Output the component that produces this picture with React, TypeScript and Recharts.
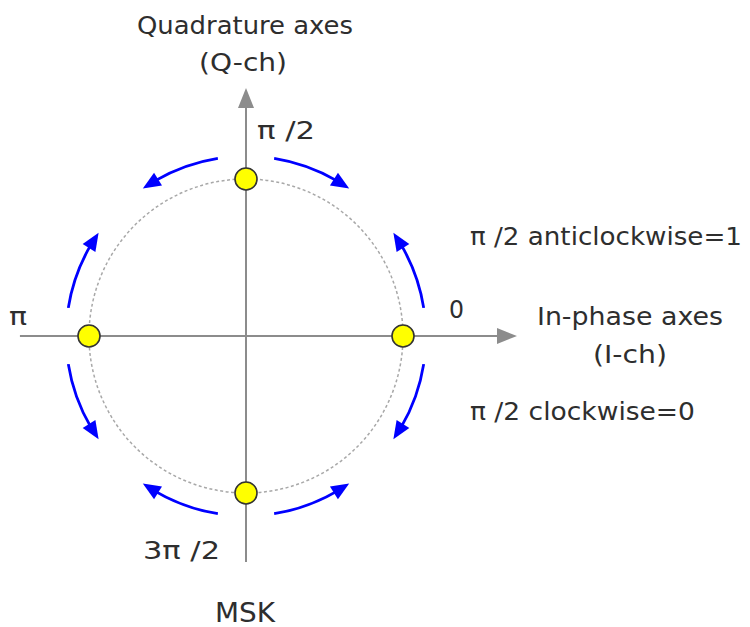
import React from 'react';
import { ScatterChart, Scatter, XAxis, YAxis, ReferenceLine, ReferenceDot } from 'recharts';

// ---- data ----
const pointI = [1, 0, -1, 0];
const pointQ = [0, 1, 0, -1];
const phaseLabels = ['0', 'π /2', 'π', '3π /2'];
const axisTitleI = ['In-phase axes', '(I-ch)'];
const axisTitleQ = ['Quadrature axes', '(Q-ch)'];
const chartTitle = 'MSK';
const ruleLabels = ['π /2 anticlockwise=1', 'π /2 clockwise=0'];
// phase transition arrows (degrees, counter-clockwise from I axis)
const arrowFrom = [9, -9, 81, 99, 171, 189, 261, 279];
const arrowTo = [35, -35, 55, 125, 145, 215, 235, 305];
const arrowRadius = 1.146;
const axisIRange = [-1.44, 1.726];
const axisQRange = [-1.44, 1.58];

const constellation = pointI.map((x, i) => ({ x, y: pointQ[i], label: phaseLabels[i] }));

// ---- layout ----
const W = 750, H = 627;
const CX = 246, CY = 336, U = 157;
const XMIN = -CX / U, XMAX = (W - CX) / U;
const YMAX = CY / U, YMIN = -(H - CY) / U;

const TEXT = '#2e2e2e';
const AXIS = '#8c8c8c';
const BLUE = '#0000ff';
const FONT = '"DejaVu Sans", sans-serif';
const FS = 24;

function Txt({ x, y, w, anchor = 'start', size = FS, children }: any) {
  return (
    <text x={x} y={y} fontFamily={FONT} fontSize={size} fill={TEXT} textAnchor={anchor}
      textLength={w} lengthAdjust="spacingAndGlyphs">{children}</text>
  );
}

// label layout relative to each constellation point: [dx, dy, width]
const phaseLabelLayout: Record<string, [number, number, number]> = {
  '0': [46, -18, 15],
  'π /2': [11, -40, 58],
  'π': [-80, -11, 18],
  '3π /2': [-103, 66, 77],
};

function arrowHead(x1: number, y1: number, x2: number, y2: number, len: number, wid: number, fill: string) {
  const dx = x2 - x1, dy = y2 - y1;
  const d = Math.hypot(dx, dy) || 1;
  const ux = dx / d, uy = dy / d;
  const bx = x2 - ux * len, by = y2 - uy * len;
  const nx = -uy, ny = ux;
  const pts = `${x2},${y2} ${bx + nx * wid / 2},${by + ny * wid / 2} ${bx - nx * wid / 2},${by - ny * wid / 2}`;
  return <polygon points={pts} fill={fill} />;
}

function OriginShape(props: any) {
  const { cx, cy } = props;
  const R = arrowRadius * U;
  const p = (deg: number, r: number) => {
    const a = (deg * Math.PI) / 180;
    return [cx + r * Math.cos(a), cy - r * Math.sin(a)];
  };
  const headLen = 18, headW = 15;
  return (
    <g>
      <circle cx={cx} cy={cy} r={U} fill="none" stroke="#a8a8a8" strokeWidth={1.5} strokeDasharray="3 2.5" />
      {arrowFrom.map((from, i) => {
        const to = arrowTo[i];
        const dir = to > from ? 1 : -1;
        const headDeg = (headLen / R) * (180 / Math.PI);
        const lineEnd = to - dir * headDeg * 0.8;
        const [sx, sy] = p(from, R);
        const [ex, ey] = p(lineEnd, R);
        const [tx, ty] = p(to, R);
        const [bx, by] = p(to - dir * headDeg, R);
        const sweep = dir > 0 ? 0 : 1;
        return (
          <g key={i}>
            <path d={`M${sx},${sy} A${R},${R} 0 0 ${sweep} ${ex},${ey}`} fill="none" stroke={BLUE} strokeWidth={2.8} />
            {arrowHead(bx, by, tx, ty, headLen, headW, BLUE)}
          </g>
        );
      })}
    </g>
  );
}

function AxisIShape(props: any) {
  const { x1, y1, x2, y2 } = props;
  return (
    <g>
      <line x1={x1} y1={y1} x2={x2 - 10} y2={y2} stroke={AXIS} strokeWidth={2} />
      {arrowHead(x1, y1, x2, y2, 20, 16, AXIS)}
      <Txt x={x2 + 113} y={y2 - 11} w={186} anchor="middle">{axisTitleI[0]}</Txt>
      <Txt x={x2 + 113} y={y2 + 27} w={74} anchor="middle">{axisTitleI[1]}</Txt>
      <Txt x={x2 - 47} y={y2 - 91} w={272}>{ruleLabels[0]}</Txt>
      <Txt x={x2 - 47} y={y2 + 84} w={225}>{ruleLabels[1]}</Txt>
    </g>
  );
}

function AxisQShape(props: any) {
  const { x1, y1, x2, y2 } = props;
  return (
    <g>
      <line x1={x1} y1={y1} x2={x2} y2={y2 + 10} stroke={AXIS} strokeWidth={2} />
      {arrowHead(x1, y1, x2, y2, 20, 16, AXIS)}
      <Txt x={x2 - 1} y={y2 - 54} w={216} anchor="middle">{axisTitleQ[0]}</Txt>
      <Txt x={x2 - 3} y={y2 - 17} w={88} anchor="middle">{axisTitleQ[1]}</Txt>
      <Txt x={x1 - 1} y={y1 + 60} w={60} anchor="middle" size={26}>{chartTitle}</Txt>
    </g>
  );
}

function PointShape(props: any) {
  const { cx, cy, payload } = props;
  const lay = phaseLabelLayout[payload.label] || [0, 0, 10];
  return (
    <g>
      <circle cx={cx} cy={cy} r={11} fill="#ffff00" stroke="#333333" strokeWidth={1.6} />
      <Txt x={cx + lay[0]} y={cy + lay[1]} w={lay[2]}>{payload.label}</Txt>
    </g>
  );
}

export default function App() {
  return (
    <div style={{ position: 'absolute', left: 0, top: 0, background: '#fff' }}>
      <ScatterChart width={W} height={H} margin={{ top: 0, right: 0, bottom: 0, left: 0 }}>
        <XAxis type="number" dataKey="x" domain={[XMIN, XMAX]} hide allowDataOverflow />
        <YAxis type="number" dataKey="y" domain={[YMIN, YMAX]} hide allowDataOverflow />
        <ReferenceDot x={0} y={0} r={1} shape={OriginShape} ifOverflow="visible" />
        <ReferenceLine segment={[{ x: axisIRange[0], y: 0 }, { x: axisIRange[1], y: 0 }]} shape={AxisIShape} ifOverflow="visible" />
        <ReferenceLine segment={[{ x: 0, y: axisQRange[0] }, { x: 0, y: axisQRange[1] }]} shape={AxisQShape} ifOverflow="visible" />
        <Scatter data={constellation} shape={PointShape} isAnimationActive={false} />
      </ScatterChart>
    </div>
  );
}
